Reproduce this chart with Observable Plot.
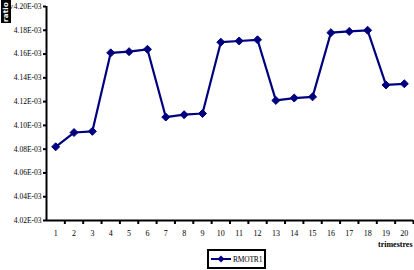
<!DOCTYPE html>
<html><head><meta charset="utf-8">
<script src="https://cdn.jsdelivr.net/npm/d3@7"></script>
<script src="https://cdn.jsdelivr.net/npm/@observablehq/plot@0.6"></script>
<style>
body{margin:0;background:#fff;}
#wrap{position:relative;width:414px;height:270px;overflow:hidden;font-family:"Liberation Serif",serif;}
#ylab{position:absolute;left:1px;top:0px;width:10px;height:23px;background:#000;}
#ylab span{position:absolute;left:50%;top:50%;transform:translate(-50%,-50%) rotate(-90deg);color:#fff;font:bold 7px "DejaVu Sans",sans-serif;letter-spacing:0.3px;white-space:nowrap;}
#legend{position:absolute;left:207px;top:249px;width:55px;height:16px;border:2px solid #000;background:#fff;}
#legend svg{position:absolute;left:0;top:0;}
</style></head>
<body><div id="wrap"><div id="ylab"><span>ratio</span></div></div>
<script>
const seriesName = "RMOTR1";
const trimestres = [1,2,3,4,5,6,7,8,9,10,11,12,13,14,15,16,17,18,19,20];
const ratio = [4.082e-3,4.094e-3,4.095e-3,4.161e-3,4.162e-3,4.164e-3,4.107e-3,4.109e-3,4.110e-3,4.170e-3,4.171e-3,4.172e-3,4.121e-3,4.123e-3,4.124e-3,4.178e-3,4.179e-3,4.180e-3,4.134e-3,4.135e-3];
const yTicks = [4.02e-3,4.04e-3,4.06e-3,4.08e-3,4.10e-3,4.12e-3,4.14e-3,4.16e-3,4.18e-3,4.20e-3];
const xLabel = "trimestres";

const data = trimestres.map((t,i)=>({t, v: ratio[i]}));
const boundaries = trimestres.map(t=>t+0.5);
const navy = "#00007f";
const fmt = d => (d*1000).toFixed(2) + "E-03";

const chart = Plot.plot({
  width: 414, height: 270,
  marginLeft: 46, marginRight: 1, marginTop: 6, marginBottom: 50,
  style: {fontFamily: "Liberation Serif, serif", fontSize: "8px", background: "#fff"},
  x: {type: "linear", domain: [0.5, 20.5], axis: null},
  y: {domain: [4.02e-3, 4.20e-3], axis: null},
  marks: [
    Plot.axisY(yTicks, {tickFormat: fmt, tickSize: 3, tickPadding: 2, strokeWidth: 2, fontSize: 7.5, letterSpacing: -0.3}),
    Plot.axisX(boundaries, {tickFormat: () => "", tickSize: 4, strokeWidth: 2, label: null}),
    Plot.axisX(trimestres, {tickFormat: d => String(d), tickSize: 0, tickPadding: 10, fontSize: 8, label: null}),
    Plot.ruleX([0.5], {stroke: "#000", strokeWidth: 2}),
    Plot.ruleY([4.02e-3], {stroke: "#000", strokeWidth: 2}),
    Plot.line(data, {x: "t", y: "v", stroke: navy, strokeWidth: 2.2}),
    Plot.dot(data, {x: "t", y: "v", symbol: "diamond2", r: 3.6, fill: navy, stroke: navy, strokeWidth: 1}),
    Plot.text([xLabel], {frameAnchor: "bottom-right", dy: 26, dx: -1, fontSize: 8, fontWeight: "bold", fill: "#000"})
  ]
});
chart.style.position = "absolute";
chart.style.left = "0px";
chart.style.top = "0px";
const wrap = document.getElementById("wrap");
wrap.insertBefore(chart, wrap.firstChild);

// legend
const lg = document.createElement("div");
lg.id = "legend";
lg.innerHTML = `<svg width="55" height="16">
<line x1="2" y1="8" x2="22" y2="8" stroke="${navy}" stroke-width="2"/>
<path d="M12,4.5 L15.5,8 L12,11.5 L8.5,8 Z" fill="${navy}"/>
<text x="24" y="11" font-family="Liberation Serif, serif" font-size="7.5" letter-spacing="-0.2">${seriesName}</text></svg>`;
wrap.appendChild(lg);
</script></body></html>
